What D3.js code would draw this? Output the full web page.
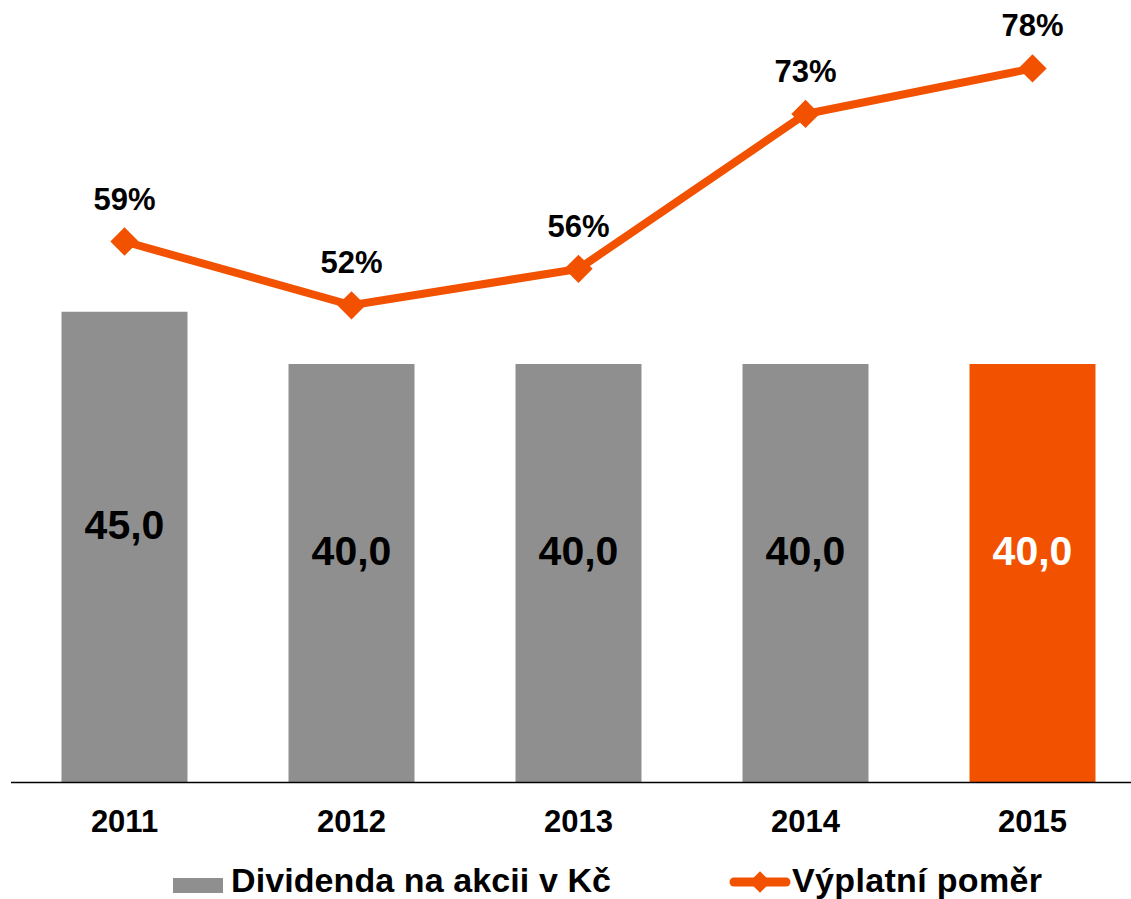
<!DOCTYPE html>
<html lang="cs">
<head>
<meta charset="UTF-8">
<title>Dividenda</title>
<script src="https://cdn.jsdelivr.net/npm/d3@7/dist/d3.min.js"></script>
<style>
    body{ margin:0; background:#fff; }
    .txt{ font-family: "Liberation Sans", Arial, sans-serif; font-weight:700; }
</style>
</head>
<body>
<div id="graf"></div>
<script>
var roky = ["2011", "2012", "2013", "2014", "2015"];
var dividenda = [45.0, 40.0, 40.0, 40.0, 40.0];
var pomer = [59, 52, 56, 73, 78];

var w = 1131, h = 899;
var base = 782;
var sede = "#8f8f8f", oranz = "#f25100";

var svg = d3.select("#graf").append("svg")
    .attr("width", w)
    .attr("height", h);

var x = d3.scaleBand()
    .domain(roky)
    .range([11, 1146])
    .paddingInner(0.445)
    .paddingOuter(0.2225);

var yBar = d3.scaleLinear().domain([0, 75]).range([base, base - 75 * 10.45]);
var yPct = d3.scaleLinear().domain([0, 85]).range([base - 3, base - 3 - 85 * 9.11]);

// sloupce
svg.selectAll("rect.bar")
    .data(dividenda)
    .enter()
    .append("rect")
    .attr("class", "bar")
    .attr("x", function(d, i){ return x(roky[i]) })
    .attr("y", function(d){ return yBar(d) })
    .attr("width", x.bandwidth())
    .attr("height", function(d){ return base - yBar(d) })
    .attr("fill", function(d, i){ return i == roky.length - 1 ? oranz : sede });

svg.selectAll("text.hodnota")
    .data(dividenda)
    .enter()
    .append("text")
    .attr("class", "txt")
    .attr("x", function(d, i){ return x(roky[i]) + x.bandwidth() / 2 })
    .attr("y", function(d){ return (yBar(d) + base) / 2 - 8 })
    .attr("text-anchor", "middle")
    .attr("font-size", 41)
    .attr("fill", function(d, i){ return i == roky.length - 1 ? "#fff" : "#000" })
    .text(function(d){ return d3.format(".1f")(d).replace(".", ",") });

// osa
var osa = svg.append("g")
    .attr("transform", "translate(0," + base + ")")
    .call(d3.axisBottom(x).tickSize(0).tickPadding(0));
osa.select(".domain").attr("d", "M11,0.5H1131").attr("stroke", "#000").attr("stroke-width", 1.5);
osa.selectAll("text")
    .attr("class", "txt")
    .attr("dy", null)
    .attr("y", 50)
    .attr("font-size", 31)
    .attr("fill", "#000");

// linie
var cx = function(d, i){ return x(roky[i]) + x.bandwidth() / 2 };
var linie = d3.line()
    .x(cx)
    .y(function(d){ return yPct(d) });

svg.append("path")
    .datum(pomer)
    .attr("d", linie)
    .attr("fill", "none")
    .attr("stroke", oranz)
    .attr("stroke-width", 8);

var kosoctverec = d3.symbol().type(d3.symbolSquare).size(400);
svg.selectAll("path.bod")
    .data(pomer)
    .enter()
    .append("path")
    .attr("class", "bod")
    .attr("d", kosoctverec)
    .attr("transform", function(d, i){ return "translate(" + cx(d, i) + "," + yPct(d) + ") rotate(45)" })
    .attr("fill", oranz);

svg.selectAll("text.pct")
    .data(pomer)
    .enter()
    .append("text")
    .attr("class", "txt")
    .attr("x", cx)
    .attr("y", function(d){ return yPct(d) - 32 })
    .attr("text-anchor", "middle")
    .attr("font-size", 31)
    .text(function(d){ return d + "%" });

// legenda
var leg = svg.append("g");
leg.append("rect")
    .attr("x", 173).attr("y", 878)
    .attr("width", 50).attr("height", 15)
    .attr("fill", sede);
leg.append("text")
    .attr("class", "txt")
    .attr("x", 231).attr("y", 892)
    .attr("font-size", 34)
    .attr("textLength", 380)
    .text("Dividenda na akcii v Kč");

leg.append("line")
    .attr("x1", 734).attr("x2", 786)
    .attr("y1", 882).attr("y2", 882)
    .attr("stroke", oranz)
    .attr("stroke-width", 9)
    .attr("stroke-linecap", "round");
leg.append("path")
    .attr("d", d3.symbol().type(d3.symbolSquare).size(230))
    .attr("transform", "translate(760,882) rotate(45)")
    .attr("fill", oranz);
leg.append("text")
    .attr("class", "txt")
    .attr("x", 792).attr("y", 892)
    .attr("font-size", 34)
    .attr("textLength", 250)
    .text("Výplatní poměr");
</script>
</body>
</html>
